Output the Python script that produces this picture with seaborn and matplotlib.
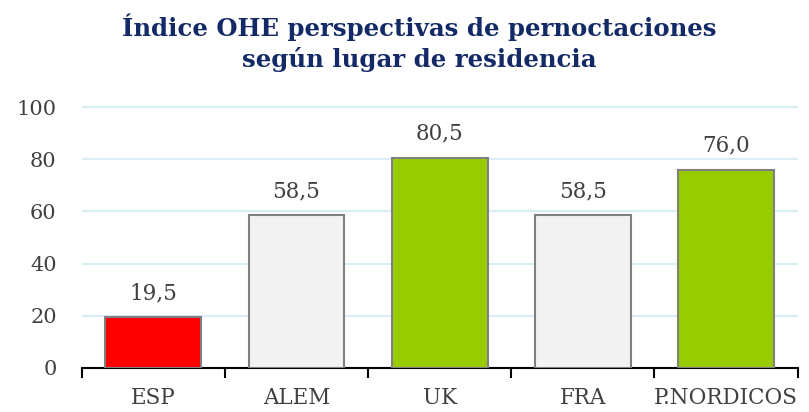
import matplotlib.pyplot as plt
import seaborn as sns
import pandas as pd
from matplotlib.ticker import FixedLocator

categories = ['ESP', 'ALEM', 'UK', 'FRA', 'P.NORDICOS']
values = [19.5, 58.5, 80.5, 58.5, 76.0]
colors = ['#ff0000', '#f2f2f2', '#99cc00', '#f2f2f2', '#99cc00']
yticks = [0, 20, 40, 60, 80, 100]

df = pd.DataFrame({'Pais': categories, 'Indice': values})

sns.set_style('white')
plt.rcParams['font.family'] = ['DejaVu Serif']

fig = plt.figure(figsize=(8.09, 4.12), dpi=100)
ax = fig.add_axes([0.101, 0.107, 0.885, 0.637])

sns.barplot(data=df, x='Pais', y='Indice', hue='Pais', palette=colors,
            saturation=1, legend=False, width=0.67, edgecolor='#808080',
            linewidth=1.5, ax=ax, zorder=3)

ax.set_ylim(0, 100.6)
ax.set_xlim(-0.5, len(categories) - 0.5)
ax.set_yticks(yticks)
ax.set_yticklabels([str(t) for t in yticks], fontsize=15, color='#404040')
ax.yaxis.grid(True, color='#d9edf5', linewidth=1.5, zorder=0)
ax.tick_params(axis='y', length=0, pad=18)

ax.tick_params(axis='x', which='major', length=0, labelsize=15.5,
               labelcolor='#404040', pad=14)
ax.xaxis.set_minor_locator(FixedLocator([i - 0.5 for i in range(len(categories) + 1)]))
ax.tick_params(axis='x', which='minor', length=7, width=1.5, color='black',
               direction='out', bottom=True)

for s in ['left', 'right', 'top']:
    ax.spines[s].set_visible(False)
ax.spines['bottom'].set_color('black')
ax.spines['bottom'].set_linewidth(1.5)
ax.set_xlabel('')
ax.set_ylabel('')

for i, v in enumerate(values):
    ax.text(i, v + 5, f'{v:.1f}'.replace('.', ','), ha='center', va='bottom',
            fontsize=15.5, color='#404040')

fig.text(0.518, 0.968, 'Índice OHE perspectivas de pernoctaciones\nsegún lugar de residencia',
         ha='center', va='top', fontsize=17.6, fontweight='bold', color='#132a66',
         linespacing=1.3)

fig.savefig('out.png', dpi=100)
